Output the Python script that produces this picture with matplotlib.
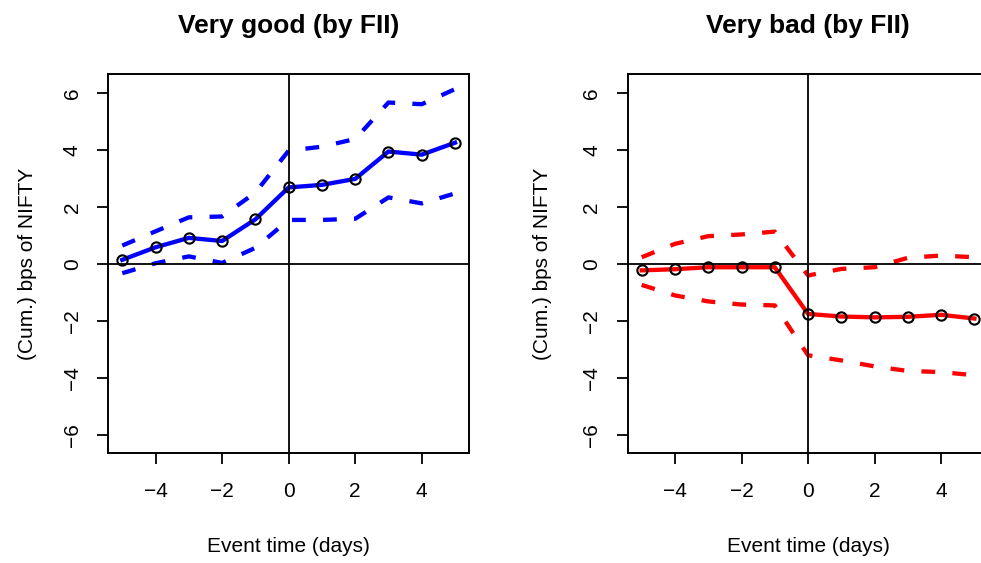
import matplotlib.pyplot as plt

plt.rcParams['font.family'] = ['Liberation Sans', 'DejaVu Sans']

# event window
days = [-5, -4, -3, -2, -1, 0, 1, 2, 3, 4, 5]

# Very good (by FII)
good_mean = [0.14, 0.58, 0.91, 0.80, 1.56, 2.68, 2.77, 2.98, 3.94, 3.83, 4.25]
good_upper = [0.64, 1.14, 1.63, 1.66, 2.50, 3.97, 4.11, 4.38, 5.66, 5.60, 6.13]
good_lower = [-0.33, 0.02, 0.26, 0.03, 0.56, 1.54, 1.54, 1.58, 2.33, 2.12, 2.47]

# Very bad (by FII)
bad_mean = [-0.23, -0.19, -0.12, -0.12, -0.12, -1.76, -1.85, -1.88, -1.86, -1.79, -1.92]
bad_upper = [0.23, 0.70, 0.97, 1.03, 1.13, -0.41, -0.18, -0.12, 0.21, 0.29, 0.23]
bad_lower = [-0.74, -1.11, -1.32, -1.43, -1.46, -3.21, -3.39, -3.60, -3.76, -3.80, -3.91]

xticks = [-4, -2, 0, 2, 4]
yticks = [-6, -4, -2, 0, 2, 4, 6]

W, H = 981, 563
fig = plt.figure(figsize=(W / 100, H / 100), dpi=100)

panels = [
    ("Very good (by FII)", good_mean, good_upper, good_lower, "#0000ff", 108.3, -0.223),
    ("Very bad (by FII)", bad_mean, bad_upper, bad_lower, "#ff0000", 627.7, -0.235),
]

for title, mean, upper, lower, col, left_px, ylab_x in panels:
    ax = fig.add_axes([left_px / W, 1 - 453.3 / H, 360.7 / W, 379.0 / H])

    # confidence band
    for band in (upper, lower):
        ax.plot(days, band, color=col, lw=3.1, dashes=(3.2, 4.0),
                dash_capstyle='butt', zorder=2)

    # mean line with open circles
    ax.plot(days, mean, color=col, lw=3.1, zorder=3)
    ax.plot(days, mean, linestyle='none', marker='o', markersize=7.4,
            markerfacecolor='none', markeredgecolor='black',
            markeredgewidth=1.5, zorder=4)

    # zero lines
    ax.axhline(0, color='black', lw=1.3, zorder=5)
    ax.axvline(0, color='black', lw=1.3, zorder=5)

    ax.set_xlim(-5.42, 5.42)
    ax.set_ylim(-6.65, 6.65)
    ax.set_xticks(xticks)
    ax.set_yticks(yticks)
    ax.set_xticklabels([str(t).replace('-', '\u2212') for t in xticks])
    ax.set_yticklabels([str(t).replace('-', '\u2212') for t in yticks],
                       rotation=90, va='center')
    ax.tick_params(axis='both', direction='out', length=8, width=1.3,
                   labelsize=15, color='black')
    ax.tick_params(axis='x', pad=13)
    ax.tick_params(axis='y', pad=11)
    for sp in ax.spines.values():
        sp.set_linewidth(1.4)

    ax.set_title(title, fontsize=19, fontweight='bold', pad=30)
    ax.set_xlabel("Event time (days)", fontsize=15, va='baseline')
    ax.xaxis.set_label_coords(0.5, -0.2596)
    ax.set_ylabel("(Cum.) bps of NIFTY", fontsize=15, va='center')
    ax.yaxis.set_label_coords(ylab_x, 0.5)

fig.savefig("out.png", dpi=100)
